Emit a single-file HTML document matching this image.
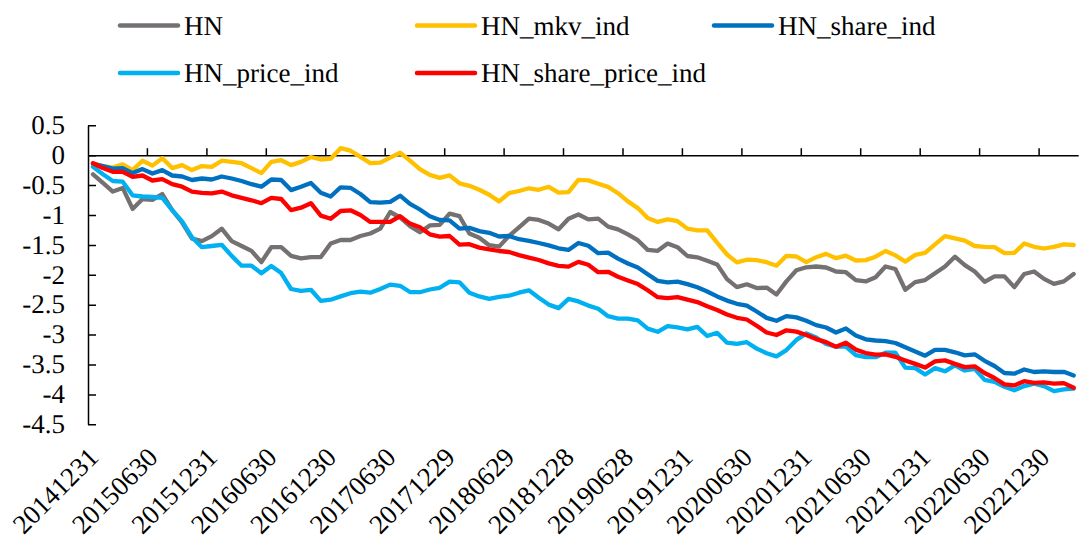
<!DOCTYPE html>
<html><head><meta charset="utf-8"><style>
html,body{margin:0;padding:0;background:#fff;}
body{width:1092px;height:546px;overflow:hidden;}
svg{display:block;}
.t{font-family:"Liberation Serif",serif;font-size:27px;fill:#000;text-rendering:geometricPrecision;}
</style></head><body>
<svg width="1092" height="546" viewBox="0 0 1092 546">
<path d="M88.5,125.8 L88.5,424.8" stroke="#000" stroke-width="1.5" fill="none"/>
<path d="M88.0,125.8 H96.0 M88.0,155.7 H96.0 M88.0,185.6 H96.0 M88.0,215.5 H96.0 M88.0,245.4 H96.0 M88.0,275.3 H96.0 M88.0,305.2 H96.0 M88.0,335.1 H96.0 M88.0,365.0 H96.0 M88.0,394.9 H96.0 M88.0,424.8 H96.0" stroke="#000" stroke-width="1.5" fill="none"/>
<path d="M88.0,155.7 H1078.7" stroke="#000" stroke-width="1.5" fill="none"/>
<path d="M147.4,155.7 V148.2 M206.9,155.7 V148.2 M266.3,155.7 V148.2 M325.8,155.7 V148.2 M385.2,155.7 V148.2 M444.7,155.7 V148.2 M504.1,155.7 V148.2 M563.5,155.7 V148.2 M623.0,155.7 V148.2 M682.4,155.7 V148.2 M741.9,155.7 V148.2 M801.3,155.7 V148.2 M860.7,155.7 V148.2 M920.2,155.7 V148.2 M979.6,155.7 V148.2 M1039.1,155.7 V148.2" stroke="#000" stroke-width="1.5" fill="none"/>
<path d="M93.0,174.3 L102.9,182.9 L112.8,191.6 L122.7,187.9 L132.6,208.9 L142.5,199.0 L152.4,199.8 L162.3,194.1 L172.2,210.1 L182.1,222.5 L192.0,238.6 L201.9,241.1 L211.8,236.1 L221.7,228.7 L231.7,241.1 L241.6,246.0 L251.5,250.9 L261.4,262.1 L271.3,247.2 L281.2,247.2 L291.1,255.9 L301.0,258.4 L310.9,257.1 L320.8,257.1 L330.7,243.5 L340.6,240.0 L350.5,240.0 L360.4,236.0 L370.3,233.5 L380.3,228.6 L390.2,212.0 L400.1,217.5 L410.0,226.1 L419.9,232.3 L429.8,225.4 L439.7,224.9 L449.6,213.7 L459.5,216.2 L469.4,233.5 L479.3,237.7 L489.2,245.2 L499.1,246.6 L509.0,236.0 L519.0,227.3 L528.9,218.7 L538.8,219.9 L548.7,223.6 L558.6,229.3 L568.5,218.7 L578.4,214.5 L588.3,219.4 L598.2,218.7 L608.1,226.7 L618.0,229.3 L627.9,234.3 L637.8,240.2 L647.7,249.9 L657.7,250.8 L667.6,243.6 L677.5,247.2 L687.4,256.0 L697.3,257.3 L707.2,260.7 L717.1,264.4 L727.0,279.1 L736.9,287.1 L746.8,284.3 L756.7,288.1 L766.6,287.6 L776.5,294.5 L786.4,281.4 L796.4,270.3 L806.3,267.3 L816.2,266.5 L826.1,267.5 L836.0,271.5 L845.9,272.2 L855.8,280.1 L865.7,281.4 L875.6,277.2 L885.5,266.5 L895.4,269.0 L905.3,289.8 L915.2,282.1 L925.1,280.1 L935.0,273.2 L945.0,266.5 L954.9,256.7 L964.8,265.1 L974.7,271.5 L984.6,281.8 L994.5,276.4 L1004.4,276.4 L1014.3,287.1 L1024.2,274.0 L1034.1,271.5 L1044.0,278.9 L1053.9,283.9 L1063.8,281.4 L1073.7,274.0" stroke="#767171" stroke-width="4.3" fill="none" stroke-linejoin="round" stroke-linecap="round"/>
<path d="M93.0,163.2 L102.9,166.1 L112.8,167.6 L122.7,164.4 L132.6,170.1 L142.5,160.7 L152.4,165.6 L162.3,158.2 L172.2,168.1 L182.1,165.1 L192.0,170.1 L201.9,166.1 L211.8,166.9 L221.7,160.7 L231.7,161.9 L241.6,163.2 L251.5,168.1 L261.4,173.1 L271.3,161.9 L281.2,160.2 L291.1,165.1 L301.0,161.9 L310.9,157.0 L320.8,159.5 L330.7,158.7 L340.6,148.2 L350.5,150.7 L360.4,156.9 L370.3,163.1 L380.3,162.6 L390.2,157.6 L400.1,152.7 L410.0,160.6 L419.9,169.2 L429.8,174.9 L439.7,177.9 L449.6,175.4 L459.5,183.3 L469.4,185.8 L479.3,189.8 L489.2,194.7 L499.1,201.4 L509.0,193.2 L519.0,191.0 L528.9,188.3 L538.8,189.8 L548.7,186.8 L558.6,192.7 L568.5,192.2 L578.4,179.9 L588.3,180.4 L598.2,183.7 L608.1,186.9 L618.0,193.2 L627.9,201.4 L637.8,208.1 L647.7,218.0 L657.7,221.9 L667.6,219.4 L677.5,221.2 L687.4,228.6 L697.3,230.3 L707.2,230.3 L717.1,242.7 L727.0,254.5 L736.9,262.4 L746.8,259.7 L756.7,260.2 L766.6,262.2 L776.5,265.7 L786.4,255.8 L796.4,256.5 L806.3,262.2 L816.2,257.2 L826.1,253.9 L836.0,258.2 L845.9,255.7 L855.8,260.5 L865.7,260.1 L875.6,256.7 L885.5,251.0 L895.4,255.4 L905.3,261.6 L915.2,254.9 L925.1,252.9 L935.0,244.3 L945.0,236.1 L954.9,238.4 L964.8,240.6 L974.7,246.0 L984.6,246.8 L994.5,247.1 L1004.4,253.2 L1014.3,252.9 L1024.2,243.5 L1034.1,246.8 L1044.0,248.5 L1053.9,246.8 L1063.8,244.3 L1073.7,245.0" stroke="#FFC000" stroke-width="4.3" fill="none" stroke-linejoin="round" stroke-linecap="round"/>
<path d="M93.0,163.9 L102.9,166.1 L112.8,168.6 L122.7,168.1 L132.6,173.1 L142.5,169.1 L152.4,173.5 L162.3,170.1 L172.2,175.5 L182.1,176.5 L192.0,180.0 L201.9,178.5 L211.8,179.5 L221.7,176.5 L231.7,178.5 L241.6,181.0 L251.5,184.2 L261.4,186.7 L271.3,179.5 L281.2,180.0 L291.1,190.1 L301.0,186.7 L310.9,182.9 L320.8,192.8 L330.7,196.5 L340.6,187.3 L350.5,187.8 L360.4,194.0 L370.3,202.1 L380.3,202.6 L390.2,201.9 L400.1,195.7 L410.0,203.9 L419.9,209.5 L429.8,216.2 L439.7,219.9 L449.6,220.4 L459.5,228.6 L469.4,227.8 L479.3,231.1 L489.2,232.8 L499.1,236.5 L509.0,236.0 L519.0,239.2 L528.9,240.9 L538.8,243.0 L548.7,245.4 L558.6,248.3 L568.5,249.9 L578.4,243.0 L588.3,245.8 L598.2,253.2 L608.1,252.7 L618.0,258.6 L627.9,263.5 L637.8,267.5 L647.7,274.2 L657.7,280.9 L667.6,282.3 L677.5,281.6 L687.4,284.1 L697.3,287.3 L707.2,291.5 L717.1,296.4 L727.0,300.6 L736.9,303.8 L746.8,305.6 L756.7,311.5 L766.6,317.9 L776.5,320.8 L786.4,316.1 L796.4,317.4 L806.3,320.8 L816.2,325.1 L826.1,327.5 L836.0,332.5 L845.9,328.5 L855.8,335.5 L865.7,339.3 L875.6,340.5 L885.5,341.1 L895.4,343.0 L905.3,347.3 L915.2,351.4 L925.1,355.7 L935.0,349.8 L945.0,349.8 L954.9,352.3 L964.8,355.4 L974.7,354.3 L984.6,360.8 L994.5,366.0 L1004.4,373.0 L1014.3,373.7 L1024.2,369.5 L1034.1,372.0 L1044.0,371.3 L1053.9,372.0 L1063.8,371.8 L1073.7,375.5" stroke="#0070C0" stroke-width="4.3" fill="none" stroke-linejoin="round" stroke-linecap="round"/>
<path d="M93.0,166.9 L102.9,174.3 L112.8,181.0 L122.7,181.7 L132.6,195.3 L142.5,196.5 L152.4,197.0 L162.3,197.8 L172.2,210.1 L182.1,221.3 L192.0,237.3 L201.9,247.2 L211.8,246.0 L221.7,244.8 L231.7,255.9 L241.6,265.7 L251.5,265.7 L261.4,273.3 L271.3,266.0 L281.2,273.1 L291.1,289.0 L301.0,290.8 L310.9,289.8 L320.8,300.9 L330.7,299.7 L340.6,296.4 L350.5,293.2 L360.4,291.7 L370.3,292.7 L380.3,289.0 L390.2,284.6 L400.1,285.8 L410.0,292.0 L419.9,292.2 L429.8,289.5 L439.7,287.8 L449.6,281.6 L459.5,282.3 L469.4,292.7 L479.3,296.4 L489.2,298.9 L499.1,296.8 L509.0,295.7 L519.0,292.7 L528.9,290.3 L538.8,297.7 L548.7,304.6 L558.6,308.1 L568.5,298.9 L578.4,301.4 L588.3,305.6 L598.2,308.8 L608.1,316.2 L618.0,318.7 L627.9,318.7 L637.8,320.4 L647.7,328.6 L657.7,331.8 L667.6,326.1 L677.5,327.3 L687.4,329.3 L697.3,326.9 L707.2,336.0 L717.1,332.8 L727.0,342.7 L736.9,343.8 L746.8,342.2 L756.7,348.6 L766.6,353.2 L776.5,356.4 L786.4,350.1 L796.4,339.9 L806.3,333.4 L816.2,337.5 L826.1,344.0 L836.0,346.7 L845.9,346.7 L855.8,355.2 L865.7,357.2 L875.6,357.2 L885.5,352.7 L895.4,352.7 L905.3,367.6 L915.2,368.1 L925.1,374.5 L935.0,368.1 L945.0,371.3 L954.9,365.3 L964.8,370.5 L974.7,368.8 L984.6,379.9 L994.5,381.9 L1004.4,386.7 L1014.3,390.3 L1024.2,386.1 L1034.1,383.6 L1044.0,386.1 L1053.9,391.1 L1063.8,389.3 L1073.7,388.6" stroke="#00B0F0" stroke-width="4.3" fill="none" stroke-linejoin="round" stroke-linecap="round"/>
<path d="M93.0,163.2 L102.9,168.1 L112.8,171.8 L122.7,171.8 L132.6,176.8 L142.5,175.5 L152.4,180.5 L162.3,179.2 L172.2,184.2 L182.1,186.7 L192.0,191.6 L201.9,192.8 L211.8,193.3 L221.7,191.6 L231.7,195.3 L241.6,197.8 L251.5,200.3 L261.4,203.2 L271.3,197.8 L281.2,199.0 L291.1,210.1 L301.0,207.7 L310.9,203.2 L320.8,215.6 L330.7,218.8 L340.6,211.0 L350.5,210.3 L360.4,215.0 L370.3,221.9 L380.3,221.9 L390.2,221.9 L400.1,216.2 L410.0,223.6 L419.9,227.3 L429.8,234.3 L439.7,236.7 L449.6,236.0 L459.5,244.7 L469.4,244.2 L479.3,247.6 L489.2,249.3 L499.1,251.0 L509.0,252.0 L519.0,255.1 L528.9,257.6 L538.8,260.0 L548.7,263.4 L558.6,265.8 L568.5,266.6 L578.4,261.9 L588.3,264.7 L598.2,272.2 L608.1,271.8 L618.0,276.7 L627.9,280.4 L637.8,284.1 L647.7,290.3 L657.7,297.2 L667.6,298.2 L677.5,297.2 L687.4,299.7 L697.3,302.1 L707.2,306.3 L717.1,310.0 L727.0,314.5 L736.9,317.8 L746.8,319.5 L756.7,325.7 L766.6,332.5 L776.5,335.0 L786.4,330.3 L796.4,331.6 L806.3,335.0 L816.2,339.1 L826.1,342.1 L836.0,346.7 L845.9,342.7 L855.8,349.6 L865.7,353.0 L875.6,354.7 L885.5,354.3 L895.4,356.8 L905.3,360.4 L915.2,363.9 L925.1,367.6 L935.0,361.4 L945.0,360.4 L954.9,363.9 L964.8,367.1 L974.7,366.3 L984.6,373.0 L994.5,378.0 L1004.4,384.4 L1014.3,385.4 L1024.2,381.2 L1034.1,382.9 L1044.0,382.4 L1053.9,383.6 L1063.8,383.1 L1073.7,387.8" stroke="#FF0000" stroke-width="4.3" fill="none" stroke-linejoin="round" stroke-linecap="round"/>
<path d="M120,25.6 H178" stroke="#767171" stroke-width="4.5" stroke-linecap="round"/>
<text x="184" y="35.0" class="t">HN</text>
<path d="M417,25.6 H475" stroke="#FFC000" stroke-width="4.5" stroke-linecap="round"/>
<text x="481" y="35.0" class="t">HN_mkv_ind</text>
<path d="M714,25.6 H772" stroke="#0070C0" stroke-width="4.5" stroke-linecap="round"/>
<text x="778" y="35.0" class="t">HN_share_ind</text>
<path d="M120,72.9 H178" stroke="#00B0F0" stroke-width="4.5" stroke-linecap="round"/>
<text x="184" y="82.30000000000001" class="t">HN_price_ind</text>
<path d="M417,72.9 H475" stroke="#FF0000" stroke-width="4.5" stroke-linecap="round"/>
<text x="481" y="82.30000000000001" class="t">HN_share_price_ind</text>
<text x="65" y="134.0" class="t" text-anchor="end">0.5</text>
<text x="65" y="163.9" class="t" text-anchor="end">0</text>
<text x="65" y="193.8" class="t" text-anchor="end">-0.5</text>
<text x="65" y="223.7" class="t" text-anchor="end">-1</text>
<text x="65" y="253.6" class="t" text-anchor="end">-1.5</text>
<text x="65" y="283.5" class="t" text-anchor="end">-2</text>
<text x="65" y="313.4" class="t" text-anchor="end">-2.5</text>
<text x="65" y="343.3" class="t" text-anchor="end">-3</text>
<text x="65" y="373.2" class="t" text-anchor="end">-3.5</text>
<text x="65" y="403.1" class="t" text-anchor="end">-4</text>
<text x="65" y="433.0" class="t" text-anchor="end">-4.5</text>
<text x="0" y="0" class="t" text-anchor="end" transform="translate(100.0,459.0) rotate(-45)">20141231</text>
<text x="0" y="0" class="t" text-anchor="end" transform="translate(159.4,459.0) rotate(-45)">20150630</text>
<text x="0" y="0" class="t" text-anchor="end" transform="translate(218.8,459.0) rotate(-45)">20151231</text>
<text x="0" y="0" class="t" text-anchor="end" transform="translate(278.3,459.0) rotate(-45)">20160630</text>
<text x="0" y="0" class="t" text-anchor="end" transform="translate(337.7,459.0) rotate(-45)">20161230</text>
<text x="0" y="0" class="t" text-anchor="end" transform="translate(397.2,459.0) rotate(-45)">20170630</text>
<text x="0" y="0" class="t" text-anchor="end" transform="translate(456.6,459.0) rotate(-45)">20171229</text>
<text x="0" y="0" class="t" text-anchor="end" transform="translate(516.0,459.0) rotate(-45)">20180629</text>
<text x="0" y="0" class="t" text-anchor="end" transform="translate(575.5,459.0) rotate(-45)">20181228</text>
<text x="0" y="0" class="t" text-anchor="end" transform="translate(634.9,459.0) rotate(-45)">20190628</text>
<text x="0" y="0" class="t" text-anchor="end" transform="translate(694.4,459.0) rotate(-45)">20191231</text>
<text x="0" y="0" class="t" text-anchor="end" transform="translate(753.8,459.0) rotate(-45)">20200630</text>
<text x="0" y="0" class="t" text-anchor="end" transform="translate(813.3,459.0) rotate(-45)">20201231</text>
<text x="0" y="0" class="t" text-anchor="end" transform="translate(872.7,459.0) rotate(-45)">20210630</text>
<text x="0" y="0" class="t" text-anchor="end" transform="translate(932.1,459.0) rotate(-45)">20211231</text>
<text x="0" y="0" class="t" text-anchor="end" transform="translate(991.6,459.0) rotate(-45)">20220630</text>
<text x="0" y="0" class="t" text-anchor="end" transform="translate(1051.0,459.0) rotate(-45)">20221230</text>
</svg>
</body></html>
